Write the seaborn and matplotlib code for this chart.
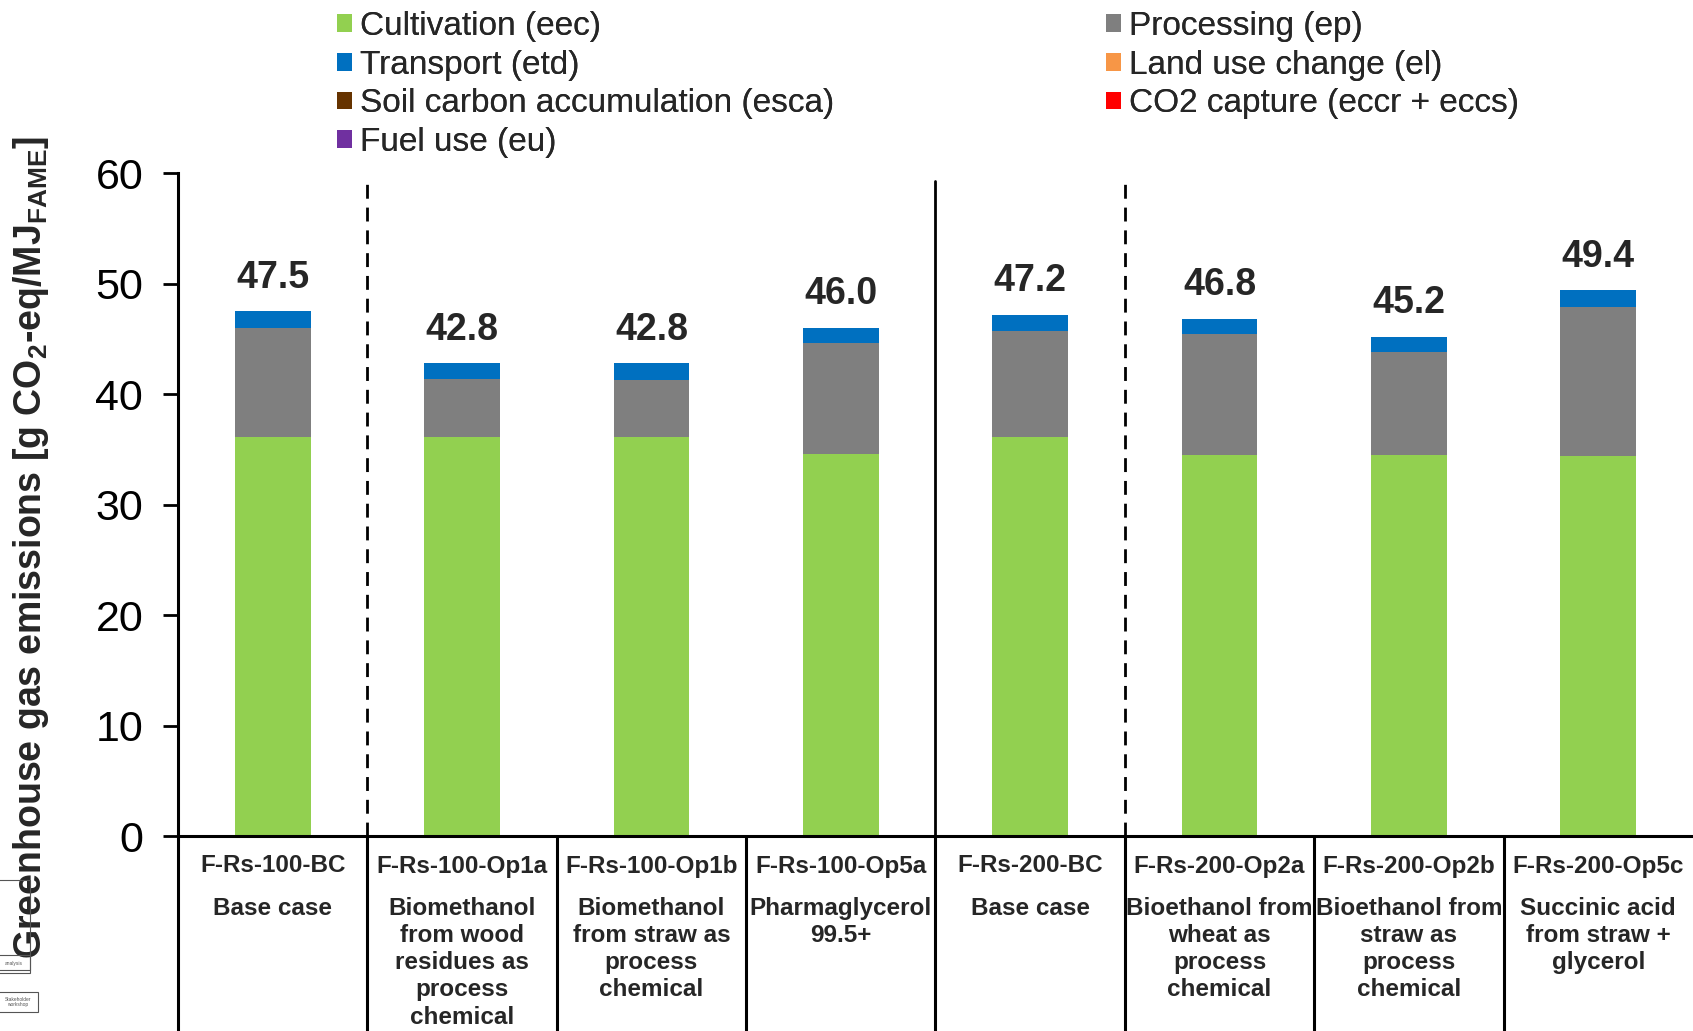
import matplotlib
matplotlib.use("Agg")
import matplotlib.pyplot as plt
import matplotlib.transforms as mtransforms
from matplotlib.patches import Patch, Rectangle
import seaborn as sns
import pandas as pd
import numpy as np

# --- data ---------------------------------------------------------------
codes = ["F-Rs-100-BC", "F-Rs-100-Op1a", "F-Rs-100-Op1b", "F-Rs-100-Op5a",
         "F-Rs-200-BC", "F-Rs-200-Op2a", "F-Rs-200-Op2b", "F-Rs-200-Op5c"]
descriptions = ["Base case",
                "Biomethanol\nfrom wood\nresidues as\nprocess\nchemical",
                "Biomethanol\nfrom straw as\nprocess\nchemical",
                "Pharmaglycerol\n99.5+",
                "Base case",
                "Bioethanol from\nwheat as\nprocess\nchemical",
                "Bioethanol from\nstraw as\nprocess\nchemical",
                "Succinic acid\nfrom straw +\nglycerol"]
cultivation = [36.1, 36.1, 36.1, 34.6, 36.1, 34.5, 34.5, 34.4]
processing  = [9.9, 5.3, 5.2, 10.0, 9.6, 10.9, 9.3, 13.5]
transport   = [1.5, 1.4, 1.5, 1.4, 1.5, 1.4, 1.4, 1.5]
land_use    = [0, 0, 0, 0, 0, 0, 0, 0]
soil_carbon = [0, 0, 0, 0, 0, 0, 0, 0]
fuel_use    = [0, 0, 0, 0, 0, 0, 0, 0]
co2_capture = [0, 0, 0, 0, 0, 0, 0, 0]
totals      = [47.5, 42.8, 42.8, 46.0, 47.2, 46.8, 45.2, 49.4]
yticks      = [0, 10, 20, 30, 40, 50, 60]

# --- style --------------------------------------------------------------
sns.set_theme(style="white")
FONT = ["Liberation Sans", "DejaVu Sans"]
plt.rcParams["font.family"] = FONT
plt.rcParams["mathtext.fontset"] = "custom"
plt.rcParams["mathtext.rm"] = "Liberation Sans:bold"
plt.rcParams["mathtext.it"] = "Liberation Sans:bold"
plt.rcParams["mathtext.bf"] = "Liberation Sans:bold"
plt.rcParams["mathtext.default"] = "rm"

colors = {
    "Cultivation (eec)": "#92D050",
    "Processing (ep)": "#7F7F7F",
    "Transport (etd)": "#0070C0",
    "Land use change (el)": "#F79646",
    "Soil carbon accumulation (esca)": "#663300",
    "CO2 capture (eccr + eccs)": "#FF0000",
    "Fuel use (eu)": "#7030A0",
}

df = pd.DataFrame({
    "code": codes,
    "Cultivation (eec)": cultivation,
    "Processing (ep)": processing,
    "Transport (etd)": transport,
    "Land use change (el)": land_use,
    "Soil carbon accumulation (esca)": soil_carbon,
    "Fuel use (eu)": fuel_use,
})
stack_order = ["Cultivation (eec)", "Processing (ep)", "Transport (etd)",
               "Land use change (el)", "Soil carbon accumulation (esca)",
               "Fuel use (eu)"]
cum = df[stack_order].cumsum(axis=1)

fig = plt.figure(figsize=(16.93, 10.31), dpi=100)
ax = fig.add_axes([0.1051, 0.1891, 0.8949, 0.643])

# stacked bars: draw cumulative heights from the top layer downwards
for layer in reversed(stack_order):
    sns.barplot(x=df["code"], y=cum[layer], color=colors[layer], saturation=1,
                width=0.4, linewidth=0, ax=ax, order=codes)
# negative contribution (CO2 capture) below zero
sns.barplot(x=df["code"], y=np.array(co2_capture),
            color=colors["CO2 capture (eccr + eccs)"],
            saturation=1, width=0.4, linewidth=0, ax=ax, order=codes)

ax.set_xlim(-0.5, 7.5)
ax.set_ylim(0, 60)
ax.set_yticks(yticks)
ax.set_yticklabels([str(t) for t in yticks], fontsize=31)
ax.set_xticks([])
ax.set_xlabel("")
ax.set_ylabel("Greenhouse gas emissions [g CO$_2$-eq/MJ$_{FAME}$]",
              fontsize=27, fontweight="bold")
ax.yaxis.set_label_coords(-0.084, 0.435)
ax.tick_params(axis="y", direction="out", length=11, width=2, left=True,
               pad=14, colors="black")
for s in ["top", "right"]:
    ax.spines[s].set_visible(False)
for s in ["left", "bottom"]:
    ax.spines[s].set_linewidth(2.2)
    ax.spines[s].set_color("black")

# totals above the bars
for i, t in enumerate(totals):
    ax.text(i, t + 1.4, f"{t:.1f}", ha="center", va="bottom",
            fontsize=27, fontweight="bold")

# group separators inside the plot
bottom_axes = -0.1891 / 0.643 - 0.01
xform = mtransforms.blended_transform_factory(ax.transData, ax.transAxes)
for xb, style in [(0.5, (0, (5, 3.2))), (3.5, "-"), (4.5, (0, (5, 3.2)))]:
    ax.plot([xb, xb], [0, 59.3], color="black", lw=2.0, linestyle=style,
            zorder=5)
# table grid lines below the axis
for xb in [-0.5, 0.5, 1.5, 2.5, 3.5, 4.5, 5.5, 6.5]:
    ax.plot([xb, xb], [0, bottom_axes], color="black", lw=2.2,
            transform=xform, clip_on=False, solid_capstyle="butt")

# category labels in the table
fxform = mtransforms.blended_transform_factory(ax.transData, fig.transFigure)
for i, (c, d) in enumerate(zip(codes, descriptions)):
    fig.text(i, 1 - 866 / 1031, c, transform=fxform, ha="center", va="center",
             fontsize=17.5, fontweight="bold")
    fig.text(i, 1 - 897 / 1031, d, transform=fxform, ha="center", va="top",
             fontsize=17.5, fontweight="bold", linespacing=1.23)

# fragments of neighbouring diagram boxes at the lower left
for (x0, y0, w, h, txt) in [(-6, 880, 36, 90, ""), (-6, 955, 36, 18, "analysis"),
                            (-6, 992, 44, 20, "Stakeholder\nworkshop")]:
    fig.patches.append(Rectangle((x0 / 1693, 1 - (y0 + h) / 1031), w / 1693,
                                 h / 1031, transform=fig.transFigure,
                                 fill=False, edgecolor="#555555", lw=0.8))
    if txt:
        fig.text((x0 + w / 2 + 2) / 1693, 1 - (y0 + h / 2) / 1031, txt,
                 ha="center", va="center", fontsize=3.5, color="#555555",
                 linespacing=1.0)

# legend in two columns
col1 = ["Cultivation (eec)", "Transport (etd)", "Soil carbon accumulation (esca)",
        "Fuel use (eu)"]
col2 = ["Processing (ep)", "Land use change (el)", "CO2 capture (eccr + eccs)"]
for names, x0 in [(col1, 337 / 1693), (col2, 1106 / 1693)]:
    handles = [Patch(facecolor=colors[n], edgecolor="none") for n in names]
    lg = fig.legend(handles, names, loc="upper left",
                    bbox_to_anchor=(x0, 1 - 11 / 1031), frameon=False,
                    prop={"family": FONT, "size": 24}, handlelength=0.45,
                    handleheight=0.45, handletextpad=0.25, labelspacing=0.23,
                    borderpad=0, borderaxespad=0)
    fig.add_artist(lg)

fig.savefig("out.png", dpi=100)
